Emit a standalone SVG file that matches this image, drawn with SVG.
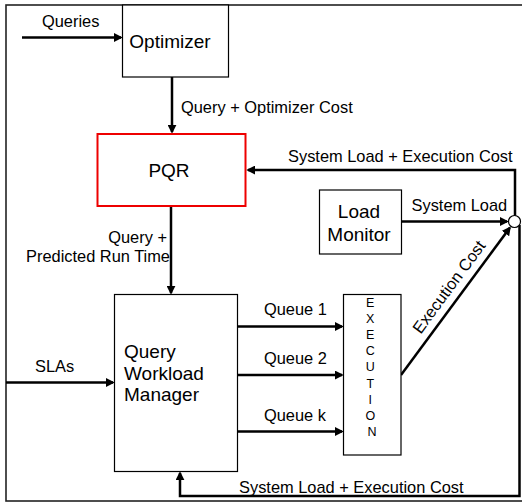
<svg xmlns="http://www.w3.org/2000/svg" width="522" height="503" viewBox="0 0 522 503">
<defs>
<marker id="ah" viewBox="0 0 10 10" refX="8" refY="5" markerWidth="9" markerHeight="9" markerUnits="userSpaceOnUse" orient="auto">
<path d="M0,0 L10,5 L0,10 z" fill="#000"/>
</marker>
</defs>
<style>
text{font-family:"Liberation Sans",Arial,Helvetica,sans-serif;fill:#000}
.lbl{font-size:16.4px}
.big{font-size:19px}
.ex{font-size:12.5px}
.box{fill:#fff;stroke:#000;stroke-width:1.2}
.conn{fill:none;stroke:#000;stroke-width:2.5}
.arr{marker-end:url(#ah)}
</style>
<rect x="6" y="5" width="530" height="496" fill="#fff" stroke="#222" stroke-width="1.6"/>

<g id="connectors">
<line class="conn arr" x1="22" y1="37.5" x2="121" y2="37.5"/>
<line class="conn arr" x1="172" y1="77" x2="172" y2="132"/>
<path class="conn arr" d="M515,216 V170 H248"/>
<line class="conn arr" x1="171" y1="206" x2="171" y2="293"/>
<line class="conn arr" x1="402" y1="221.5" x2="507" y2="221.5"/>
<line class="conn arr" x1="401" y1="375" x2="509.8" y2="227.8"/>
<line class="conn arr" x1="6" y1="382.5" x2="113" y2="382.5"/>
<line class="conn arr" x1="237" y1="326.5" x2="342" y2="326.5"/>
<line class="conn arr" x1="237" y1="375" x2="342" y2="375"/>
<line class="conn arr" x1="237" y1="431.5" x2="342" y2="431.5"/>
<path class="conn arr" d="M519.5,225 V496 H180 V473"/>
<circle cx="514.5" cy="221.5" r="6" fill="#fff" stroke="#000" stroke-width="1.2"/>
<text class="lbl" x="42" y="26.5">Queries</text>
<text class="lbl" x="181" y="113">Query + Optimizer Cost</text>
<text class="lbl" x="288" y="162">System Load + Execution Cost</text>
<text class="lbl" x="411.5" y="211">System Load</text>
<text class="lbl" x="167" y="243" text-anchor="end">Query +</text>
<text class="lbl" x="170" y="262" text-anchor="end">Predicted Run Time</text>
<text class="lbl" x="35" y="371.5">SLAs</text>
<text class="lbl" x="264" y="315">Queue 1</text>
<text class="lbl" x="264" y="364">Queue 2</text>
<text class="lbl" x="264" y="420.5">Queue k</text>
<text class="lbl" transform="translate(449,287) rotate(-53.6)" x="0" y="5.5" text-anchor="middle">Execution Cost</text>
<text class="lbl" x="239" y="492.5">System Load + Execution Cost</text>
</g>

<g id="optimizer">
<rect class="box" x="122.5" y="5" width="106" height="72"/>
<text class="big" x="170" y="48" text-anchor="middle">Optimizer</text>
</g>

<g id="pqr">
<rect x="97.5" y="134" width="148" height="72" fill="#fff" stroke="#e00" stroke-width="2"/>
<text class="big" x="169" y="177" text-anchor="middle">PQR</text>
</g>

<g id="load-monitor">
<rect class="box" x="319.5" y="190" width="82" height="64"/>
<text class="big" x="359" y="218" text-anchor="middle">Load</text>
<text class="big" x="359" y="241" text-anchor="middle">Monitor</text>
</g>

<g id="query-workload-manager">
<rect class="box" x="114.5" y="294.5" width="123" height="177"/>
<text class="big" x="124" y="358">Query</text>
<text class="big" x="124" y="380">Workload</text>
<text class="big" x="124" y="401">Manager</text>
</g>

<g id="execution">
<rect class="box" x="343.5" y="294.5" width="57.5" height="160.5"/>
<text class="ex" text-anchor="middle">
<tspan x="372" y="306.7">E</tspan>
<tspan x="372" y="322.9">X</tspan>
<tspan x="372" y="339">E</tspan>
<tspan x="372" y="355.2">C</tspan>
<tspan x="372" y="371.4">U</tspan>
<tspan x="372" y="387.5">T</tspan>
<tspan x="372" y="403.7">I</tspan>
<tspan x="372" y="419.9">O</tspan>
<tspan x="372" y="436">N</tspan>
</text>
</g>
</svg>
